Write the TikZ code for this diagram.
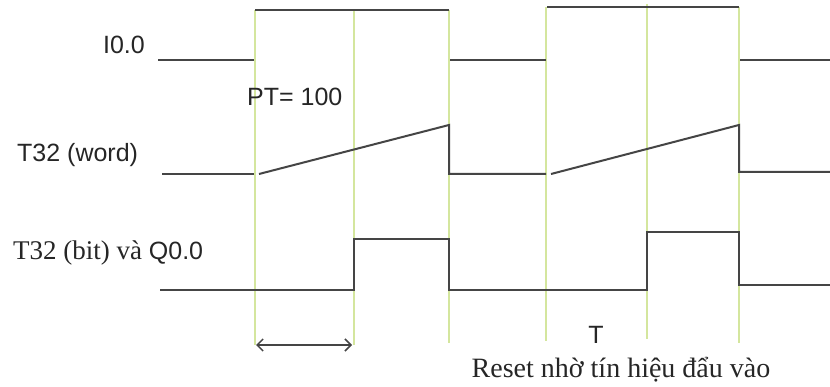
\documentclass[tikz,border=0pt]{standalone}
\usepackage{fontspec}
\setmainfont{Liberation Serif}
\newfontfamily\lsans{Liberation Sans}
\usetikzlibrary{arrows.meta}
\definecolor{wavec}{HTML}{454545}
\definecolor{guidec}{RGB}{212,230,158}
\begin{document}
\begin{tikzpicture}[x=1pt,y=-1pt,
  wave/.style={draw=wavec, line width=2pt, line join=miter},
  guide/.style={draw=guidec, line width=1.5pt},
  lbl/.style={font=\lsans\fontsize{25}{25}\selectfont, inner sep=0pt, text=black!85},
  serl/.style={font=\fontsize{27}{27}\selectfont, inner sep=0pt, text=black!85},
  dim/.style={draw=wavec, line width=1.5pt, {Straight Barb[length=6pt,width=12pt]}-{Straight Barb[length=6pt,width=12pt]}}]
\useasboundingbox (0,0) rectangle (830,387);
\fill[white] (0,0) rectangle (830,387);
% guide lines
\foreach \x/\t/\b in {255/10/345,354/10/345,449/10/343,546/7/341,647/4/339,739/7/343}
  \draw[guide] (\x,\t) -- (\x,\b);
% I0.0
\draw[wave] (158,60) -- (254,60);
\draw[wave] (255,10) -- (449,10);
\draw[wave] (450,60) -- (546,60);
\draw[wave] (547,7) -- (739,7);
\draw[wave] (740,60) -- (830,60);
% T32 word
\draw[wave] (162,174) -- (254,174);
\draw[wave] (259,174) -- (449,125) -- (449,174) -- (546,174);
\draw[wave] (551,174) -- (739,125) -- (739,172) -- (830,172);
% T32 bit
\draw[wave] (160,290) -- (354,290) -- (354,239) -- (449,239) -- (449,290) -- (647,290) -- (647,232) -- (739,232) -- (739,285) -- (830,285);
% labels
\node[lbl, anchor=east] (i00) at (145,45) {I0.0};
\node[lbl, anchor=west] (pt) at (247,97) {PT= 100};
\node[lbl, anchor=west] (t32w) at (17,155) {T32 (word)};
\node[serl, anchor=west] (t32b) at (13,253) {T32 (bit) và {\lsans\fontsize{25}{25}\selectfont Q0.0}};
\node[lbl] (tlab) at (596,335) {T};
\node[serl, font=\fontsize{28}{28}\selectfont] (reset) at (621,370) {Reset nhờ tín hiệu đẩu vào};
% dimension arrow
\coordinate (a1) at (256,345);
\coordinate (a2) at (352,345);
\draw[dim] (a1) -- (a2);
\end{tikzpicture}
\end{document}
